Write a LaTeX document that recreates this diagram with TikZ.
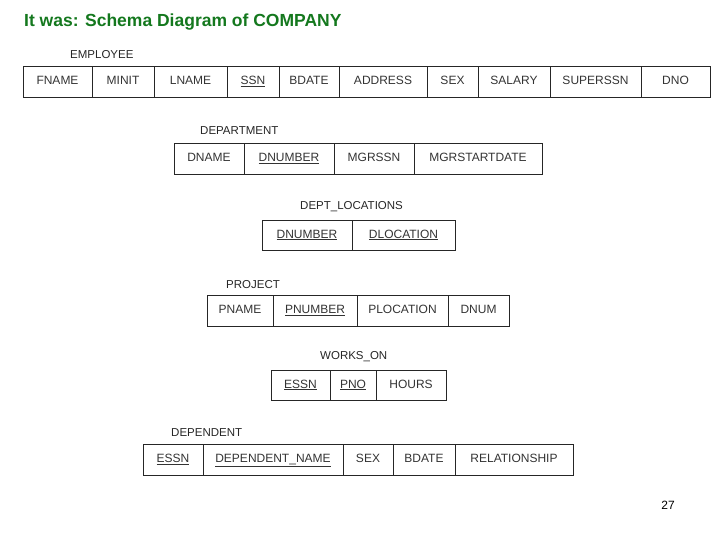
\documentclass[tikz,border=0pt]{standalone}
\usepackage{fontspec}
\setmainfont{Liberation Sans}
\begin{document}
\begin{tikzpicture}[x=1pt,y=-1pt,
  cell/.style={draw=black!85,line width=0.9pt,inner sep=0pt,text=black!80,text height=9pt,text depth=3pt,font=\fontsize{12}{14}\selectfont},
  rel/.style={anchor=west,inner sep=0pt,text=black!85,font=\fontsize{11.5}{14}\selectfont}]
\useasboundingbox (0,0) rectangle (720,540);
\node[anchor=west,inner sep=0pt,text={rgb,255:red,20;green,120;blue,30},font=\bfseries\fontsize{17.5}{20}\selectfont] (title) at (24,22) {It was: Schema Diagram of COMPANY};
\newcommand{\tbl}[4]{% prefix, ytop, ybot, list a/b/text/n
  \foreach \a/\b/\t/\n in {#4}{%
    \pgfmathsetmacro{\w}{\b-\a}\pgfmathsetmacro{\h}{#3-#2}%
    \pgfmathsetmacro{\cx}{(\a+\b)/2}\pgfmathsetmacro{\cy}{(#2+#3)/2}%
    \node[cell,minimum width=\w pt,minimum height=\h pt] (#1\n) at (\cx,\cy) {\t};}}
\newcommand{\ul}[1]{\underline{#1}}
\node[rel] (lemp) at (70,55) {EMPLOYEE};
\tbl{emp}{66}{97}{23/92/FNAME/1,92/154/MINIT/2,154/227/LNAME/3,227/279/\ul{SSN}/4,279/339/BDATE/5,339/427/ADDRESS/6,427/478/SEX/7,478/550/SALARY/8,550/641/SUPERSSN/9,641/710/DNO/10}
\node[rel] (ldep) at (200,131) {DEPARTMENT};
\tbl{dep}{143}{174}{174/244/DNAME/1,244/334/\ul{DNUMBER}/2,334/414/MGRSSN/3,414/542/MGRSTARTDATE/4}
\node[rel] (lloc) at (300,207) {DEPT\_LOCATIONS};
\tbl{loc}{220}{250}{262/352/\ul{DNUMBER}/1,352/455/\ul{DLOCATION}/2}
\node[rel] (lpro) at (226,285) {PROJECT};
\tbl{pro}{295}{326}{207/273/PNAME/1,273/357/\ul{PNUMBER}/2,357/448/PLOCATION/3,448/509/DNUM/4}
\node[rel] (lwo) at (320,357) {WORKS\_ON};
\tbl{wo}{370}{400}{271/330/\ul{ESSN}/1,330/376/\ul{PNO}/2,376/446/HOURS/3}
\node[rel] (ldp) at (171,433) {DEPENDENT};
\tbl{dp}{444}{475}{143/203/\ul{ESSN}/1,203/343/\ul{DEPENDENT\_NAME}/2,343/393/SEX/3,393/455/BDATE/4,455/573/RELATIONSHIP/5}
\node[inner sep=0pt,font=\fontsize{12}{14}\selectfont] (pg) at (668,505) {27};
\end{tikzpicture}
\end{document}
